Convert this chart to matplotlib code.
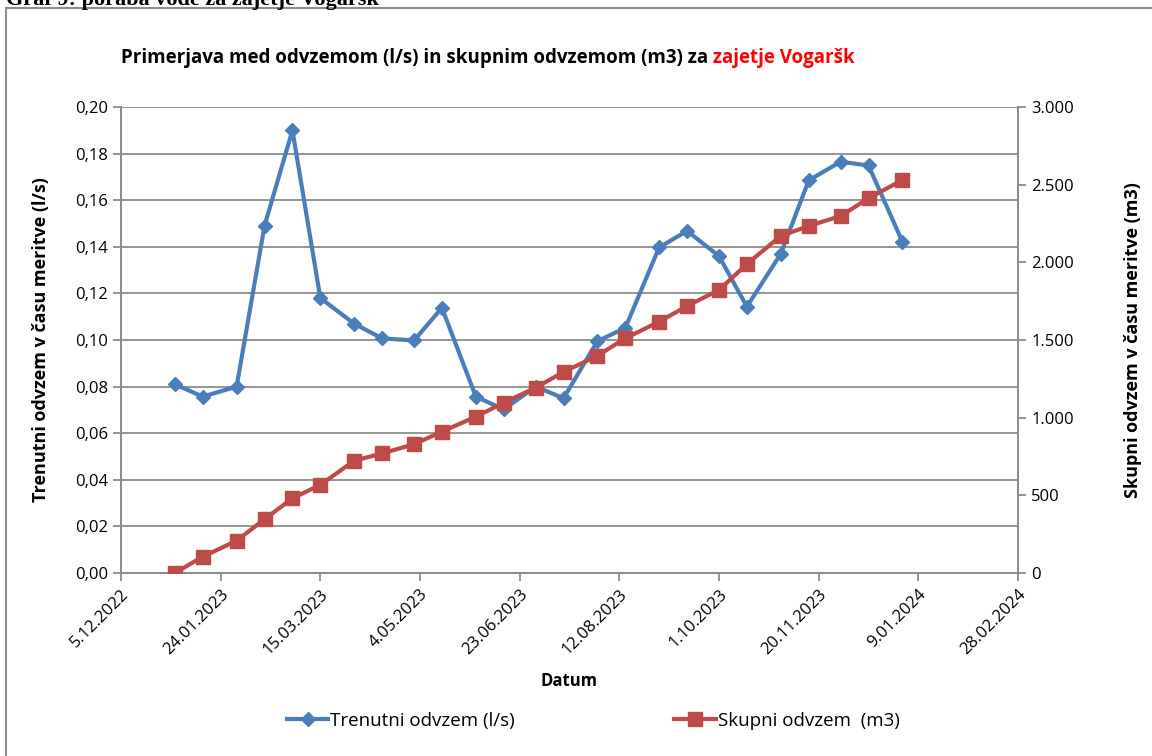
import datetime as dt
import matplotlib
matplotlib.use("Agg")
import matplotlib.pyplot as plt
from matplotlib.ticker import FuncFormatter, MultipleLocator
from matplotlib.patches import Rectangle
from matplotlib.lines import Line2D

# measurement dates (1st and 15th of each month)
dates = ["1.1.2023", "15.1.2023", "1.2.2023", "15.2.2023", "1.3.2023", "15.3.2023",
         "1.4.2023", "15.4.2023", "1.5.2023", "15.5.2023", "1.6.2023", "15.6.2023",
         "1.7.2023", "15.7.2023", "1.8.2023", "15.8.2023", "1.9.2023", "15.9.2023",
         "1.10.2023", "15.10.2023", "1.11.2023", "15.11.2023", "1.12.2023", "15.12.2023",
         "1.1.2024"]
trenutni = [0.081, 0.0757, 0.080, 0.149, 0.190, 0.118, 0.107, 0.1007, 0.0998, 0.1138,
            0.0757, 0.0702, 0.080, 0.075, 0.0995, 0.1052, 0.1398, 0.1468, 0.136, 0.1143,
            0.137, 0.1685, 0.1765, 0.1749, 0.1422]
skupni = [0, 105, 208, 346, 481, 567, 723, 770, 829, 910,
          1006, 1096, 1193, 1294, 1399, 1511, 1618, 1719, 1822, 1989,
          2170, 2234, 2298, 2412, 2530]

x = [dt.datetime.strptime(d, "%d.%m.%Y") for d in dates]

blue = "#4A7EBB"
red = "#BE4B48"
grid = "#8C8C8C"

plt.rcParams["font.family"] = ["Open Sans", "DejaVu Sans"]

fig = plt.figure(figsize=(11.52, 7.56), dpi=100)
ax = fig.add_axes([121 / 1152, 1 - 573 / 756, 897 / 1152, 466 / 756])
ax2 = ax.twinx()

ax.plot(x, trenutni, color=blue, lw=3, marker="D", ms=7, zorder=3)
ax2.plot(x, skupni, color=red, lw=3, marker="s", ms=10, zorder=3)

ax.set_ylim(0, 0.2)
ax2.set_ylim(0, 3000)
ax.yaxis.set_major_locator(MultipleLocator(0.02))
ax2.yaxis.set_major_locator(MultipleLocator(500))
ax.yaxis.set_major_formatter(FuncFormatter(lambda v, p: f"{v:.2f}".replace(".", ",")))
ax2.yaxis.set_major_formatter(FuncFormatter(lambda v, p: f"{int(round(v)):,}".replace(",", ".")))

start = dt.datetime(2022, 12, 5)
ticks = [start + dt.timedelta(days=50 * i) for i in range(10)]
ax.set_xlim(ticks[0], ticks[-1])
ax.set_xticks(ticks)
ax.set_xticklabels([f"{t.day}.{t.month:02d}.{t.year}" for t in ticks],
                   rotation=45, ha="right", rotation_mode="anchor", fontsize=12)

ax.grid(axis="y", color=grid, lw=1.3)
for a in (ax, ax2):
    for s in a.spines.values():
        s.set_color(grid)
        s.set_linewidth(1.3)
    a.spines["top"].set_visible(False)
    a.tick_params(colors=grid, labelcolor="black", labelsize=12, length=6, width=1.3)

ax.set_ylabel("Trenutni odvzem v času meritve (l/s)", fontsize=13, fontweight="bold", labelpad=18)
ax2.set_ylabel("Skupni odvzem v času meritve (m3)", fontsize=13, fontweight="bold", labelpad=36)
ax.set_xlabel("Datum", fontsize=12, fontweight="bold", labelpad=10)

t1 = fig.text(121 / 1152, 1 - 58 / 756,
              "Primerjava med odvzemom (l/s) in skupnim odvzemom (m3) za",
              fontsize=13.5, fontweight="bold", va="center")
ax.annotate(" zajetje Vogaršk", xy=(1, 0), xycoords=t1, va="bottom", ha="left",
            fontsize=13.5, fontweight="bold", color="red", annotation_clip=False)

handles = [Line2D([], [], color=blue, lw=3, marker="D", ms=7),
           Line2D([], [], color=red, lw=3, marker="s", ms=10)]
fig.legend(handles, ["Trenutni odvzem (l/s)", "Skupni odvzem  (m3)"],
           loc="center", bbox_to_anchor=(0.515, 1 - 721 / 756), ncol=2, frameon=False,
           fontsize=13.5, handlelength=2.2, handletextpad=0.1, columnspacing=8.5)

# outer chart frame and cut off caption above it
fig.patches.append(Rectangle((6 / 1152, -0.1), 1.2, 1.1 - 8 / 756, transform=fig.transFigure,
                             fill=False, edgecolor="#8C8C8C", lw=1.5))
fig.text(0.005, 1 - 5 / 756, "Graf 9: poraba vode za zajetje Vogaršk",
         family="Liberation Serif", fontweight="bold", fontsize=16, va="baseline")

fig.savefig("out.png", dpi=100)
